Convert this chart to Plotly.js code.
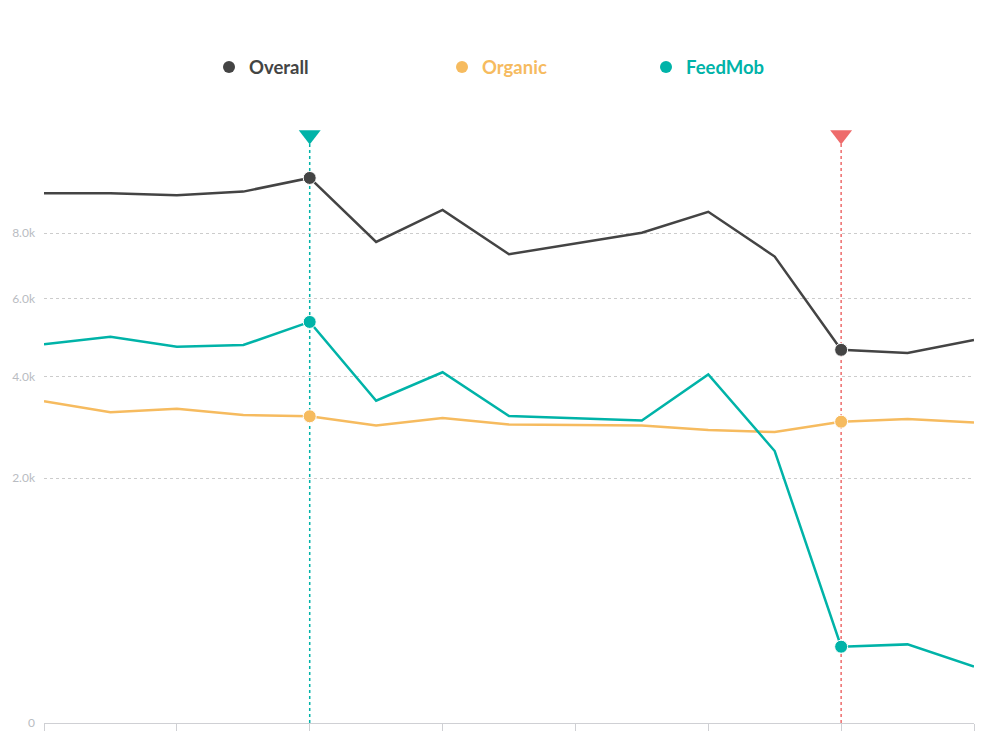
<!DOCTYPE html>
<html>
<head>
<meta charset="utf-8">
<script src="https://cdn.plot.ly/plotly-3.0.1.min.js"></script>
<style>
  html, body { margin: 0; padding: 0; background: #fff; }
  #chart { width: 986px; height: 747px; }
</style>
</head>
<body>
<div id="chart"></div>
<script>
// index of each point along the x axis (no labels shown in the chart)
const xIdx = [0, 1, 2, 3, 4, 5, 6, 7, 8, 9, 10, 11, 12, 13, 14];

// values (null = no point there)
const overall = [9350, 9350, 9280, 9410, 9900, 7710, 8770, 7320, null, 8010, 8710, 7250, 4640, 4560, 4890];
const organic = [3450, 3220, 3290, 3160, 3135, 2950, 3100, 2970, null, 2950, 2860, 2820, 3025, 3080, 3010];
const feedmob = [4780, 4970, 4720, 4760, 5360, 3460, 4100, 3140, null, 3050, 4050, 2465, 194, 206, 106];

const seriesNames = ['Overall', 'Organic', 'FeedMob'];
const seriesColors = ['#444444', '#f6bb5f', '#00b3a8'];

// event markers (triangle + dotted line)
const eventIdx = [4, 12];
const eventColors = ['#00b3a8', '#ee6b6b'];

const yTickVals = [0, 2000, 4000, 6000, 8000];
const yTickText = ['0', '2.0k', '4.0k', '6.0k', '8.0k'];

// the y axis is a square-root scale
const sq = v => (v === null ? null : Math.sqrt(v));
const yTop = 108.25;

const traces = [];
[overall, organic, feedmob].forEach((vals, i) => {
    traces.push({
        x: xIdx,
        y: vals.map(sq),
        type: 'scatter',
        mode: 'lines+markers',
        connectgaps: true,
        name: seriesNames[i],
        showlegend: false,
        hoverinfo: 'skip',
        line: { color: seriesColors[i], width: 2.5 },
        marker: {
            color: seriesColors[i],
            opacity: 1,
            size: xIdx.map(k => (eventIdx.includes(k) ? 13 : 0))
        },
        cliponaxis: false
    });
});

// triangles on top of the event lines
traces.push({
    x: eventIdx,
    y: eventIdx.map(() => yTop - 0.9),
    type: 'scatter',
    mode: 'markers',
    showlegend: false,
    hoverinfo: 'skip',
    cliponaxis: false,
    marker: { symbol: 'triangle-down', size: 19, color: eventColors, opacity: 1 }
});

const shapes = eventIdx.map((e, i) => ({
    type: 'line',
    xref: 'x', yref: 'y',
    x0: e, x1: e, y0: 0, y1: yTop - 1.5,
    line: { color: eventColors[i], width: 1.5, dash: 'dot' },
    layer: 'below'
}));

// legend drawn as dots + bold coloured labels
const plotLeft = 44, plotWidth = 930, plotBottom = 723, plotHeight = 593;
const legendDotX = [229, 462, 666];
const legendY = 67;
const px2x = p => (p - plotLeft) / plotWidth;
const px2y = p => (plotBottom - p) / plotHeight;

const annotations = [];
seriesNames.forEach((name, i) => {
    shapes.push({
        type: 'circle',
        xref: 'paper', yref: 'paper',
        xsizemode: 'pixel', ysizemode: 'pixel',
        xanchor: px2x(legendDotX[i]), yanchor: px2y(legendY),
        x0: -6, x1: 6, y0: -6, y1: 6,
        fillcolor: seriesColors[i],
        line: { width: 0 }
    });
    annotations.push({
        xref: 'paper', yref: 'paper',
        x: px2x(legendDotX[i] + 18), y: px2y(legendY),
        xanchor: 'left', yanchor: 'middle',
        showarrow: false,
        text: '<b>' + name + '</b>',
        font: { family: 'Lato, sans-serif', size: 18.5, color: seriesColors[i] }
    });
});

const layout = {
    width: 986,
    height: 747,
    margin: { l: 44, r: 12, t: 130, b: 24 },
    paper_bgcolor: '#fff',
    plot_bgcolor: '#fff',
    showlegend: false,
    font: { family: 'Lato, sans-serif' },
    xaxis: {
        range: [0, 14],
        showgrid: false,
        zeroline: false,
        showline: true,
        linecolor: '#cfd0d4',
        linewidth: 1,
        ticks: 'outside',
        ticklen: 7,
        tickcolor: '#cfd0d4',
        tickvals: [0, 2, 4, 6, 8, 10, 12, 14],
        showticklabels: false,
        fixedrange: true
    },
    yaxis: {
        range: [0, yTop],
        tickvals: yTickVals.map(sq),
        ticktext: yTickText,
        showgrid: true,
        gridcolor: '#cccccc',
        griddash: 'dot',
        gridwidth: 1,
        zeroline: false,
        showline: false,
        ticks: '',
        ticklabelstandoff: 8,
        tickfont: { family: 'Lato, sans-serif', size: 12, color: '#b9bcc2' },
        fixedrange: true
    },
    shapes: shapes,
    annotations: annotations
};

Plotly.newPlot('chart', traces, layout, { displayModeBar: false, staticPlot: true });
</script>
</body>
</html>
